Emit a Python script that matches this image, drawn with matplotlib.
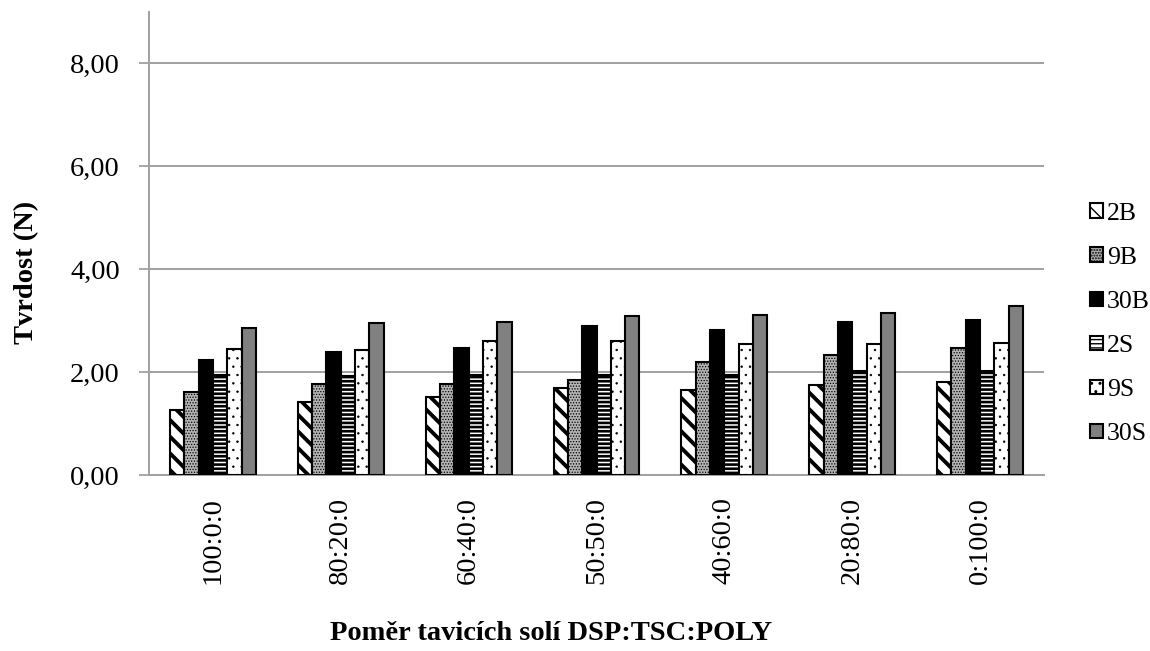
import numpy as np
import matplotlib
matplotlib.use("Agg")
import matplotlib.pyplot as plt
from matplotlib.patches import Patch

categories = ["100:0:0", "80:20:0", "60:40:0", "50:50:0", "40:60:0", "20:80:0", "0:100:0"]
series = ["2B", "9B", "30B", "2S", "9S", "30S"]

v_2b = [1.26, 1.42, 1.52, 1.69, 1.65, 1.74, 1.81]
v_9b = [1.61, 1.76, 1.76, 1.85, 2.20, 2.34, 2.46]
v_30b = [2.24, 2.39, 2.47, 2.89, 2.82, 2.97, 3.02]
v_2s = [1.94, 1.92, 1.94, 1.94, 1.94, 2.02, 2.03]
v_9s = [2.44, 2.42, 2.60, 2.60, 2.55, 2.55, 2.57]
v_30s = [2.86, 2.96, 2.98, 3.09, 3.11, 3.15, 3.28]
values = [v_2b, v_9b, v_30b, v_2s, v_9s, v_30s]

yticks = [0, 2, 4, 6, 8]
ytick_labels = ["0,00", "2,00", "4,00", "6,00", "8,00"]

styles = [
    dict(facecolor="white", hatch="\\\\", hlw=2.8),
    dict(facecolor="#b4b4b4", hatch="......", hlw=0.6),
    dict(facecolor="black", hatch=None, hlw=1.0),
    dict(facecolor="white", hatch="----", hlw=1.9),
    dict(facecolor="white", hatch="..", hlw=0.5),
    dict(facecolor="#808080", hatch=None, hlw=1.0),
]

plt.rcParams["font.family"] = ["Liberation Serif", "DejaVu Serif"]

fig = plt.figure(figsize=(11.5, 6.51), dpi=100, facecolor="white")
ax = fig.add_axes([0.1296, 0.2704, 0.9078 - 0.1296, 0.9816 - 0.2704])

x = np.arange(len(categories))
width = 0.112
handles = []
for i, (name, vals, st) in enumerate(zip(series, values, styles)):
    offset = (i - 2.5) * width
    with plt.rc_context({"hatch.linewidth": st["hlw"]}):
        ax.bar(x + offset, vals, width, facecolor=st["facecolor"],
               edgecolor="black", linewidth=1.5, hatch=st["hatch"], zorder=3)
        handles.append(Patch(facecolor=st["facecolor"], edgecolor="black",
                             linewidth=1.5, hatch=st["hatch"], label=name))

ax.set_xlim(-0.5, len(categories) - 0.5)
ax.set_ylim(0, 9)
ax.set_yticks(yticks)
ax.set_yticklabels(ytick_labels, fontsize=20.5)
ax.set_xticks(x)
ax.set_xticklabels(categories, rotation=90, fontsize=20.5)
ax.tick_params(axis="x", length=0, pad=16)
ax.tick_params(axis="y", length=7, width=1.3, color="#a0a0a0", pad=14)

ax.yaxis.grid(True, color="#a0a0a0", linewidth=1.4, zorder=0)
ax.set_axisbelow(True)
for s in ["top", "right"]:
    ax.spines[s].set_visible(False)
for s in ["left", "bottom"]:
    ax.spines[s].set_color("#a0a0a0")
    ax.spines[s].set_linewidth(1.4)

fig.text(27 / 1150, 1 - 272 / 651, "Tvrdost (N)", rotation=90, ha="center", va="center",
         fontsize=20.5, fontweight="bold")
fig.text(551 / 1150, 1 - 633 / 651, "Poměr tavicích solí DSP:TSC:POLY", ha="center", va="center",
         fontsize=20.5, fontweight="bold")

fig.legend(handles=handles, loc="center left", bbox_to_anchor=(1080 / 1150, 1 - 324 / 651),
           frameon=False, fontsize=18.5, handlelength=0.5, handleheight=0.5,
           handletextpad=0.15, labelspacing=0.86, borderaxespad=0)

fig.savefig("out.png", dpi=100, facecolor="white")
